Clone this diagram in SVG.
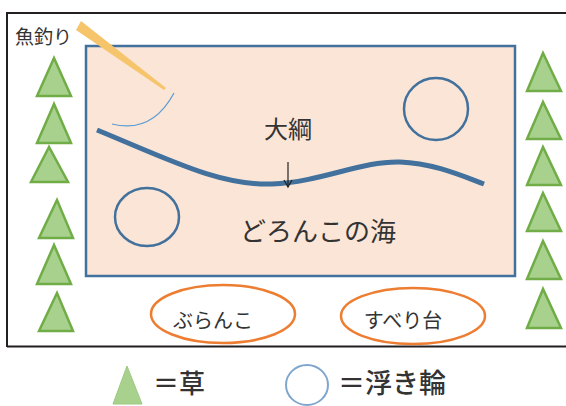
<svg xmlns="http://www.w3.org/2000/svg" width="566" height="406" viewBox="0 0 566 406">
  <style>
    .frame { fill: none; stroke: #231f20; stroke-width: 2; }
    .grass { fill: #a9d18e; stroke: #70ad47; stroke-width: 2.5; }
    .float { fill: none; stroke: #41719c; stroke-width: 2.5; }
    .play { fill: none; stroke: #ed7d31; stroke-width: 2.5; }
    .jp { font-family: "Noto Sans CJK JP", "Noto Sans CJK SC", sans-serif; fill: #333333; }
    .legend { font-family: "Noto Sans CJK JP", sans-serif; fill: #333333; font-weight: 500; }
  </style>
  <defs>
    <marker id="arrowOpen" markerWidth="10" markerHeight="10" refX="8" refY="5" orient="auto" markerUnits="userSpaceOnUse">
      <path d="M1,1 L8,5 L1,9" fill="none" stroke="#222" stroke-width="1.2"/>
    </marker>
  </defs>

  <!-- park boundary -->
  <g id="frame">
    <path class="frame" d="M7,347 L7,13 L566,13"/>
    <path class="frame" d="M7,346.5 L566,346.5"/>
  </g>

  <!-- pond -->
  <g id="pond">
    <rect x="86" y="46" width="429" height="230" fill="#fbe5d6" stroke="#41719c" stroke-width="2.5"/>
  </g>

  <!-- grass, left side -->
  <g id="grass-left">
    <polygon class="grass" points="54,58 37,96 71,96"/>
    <polygon class="grass" points="54,104 37,143 71,143"/>
    <polygon class="grass" points="49,147 31,182 68,182"/>
    <polygon class="grass" points="57,200 39,238 73,238"/>
    <polygon class="grass" points="54,245 37,284 71,284"/>
    <polygon class="grass" points="57,293 39,331 73,331"/>
  </g>

  <!-- grass, right side -->
  <g id="grass-right">
    <polygon class="grass" points="543,53 527,91 561,91"/>
    <polygon class="grass" points="543,102 527,139 561,139"/>
    <polygon class="grass" points="543,147 527,185 561,185"/>
    <polygon class="grass" points="543,193 527,231 561,231"/>
    <polygon class="grass" points="543,241 527,279 561,279"/>
    <polygon class="grass" points="543,289 527,328 561,328"/>
  </g>

  <!-- fishing rod and line -->
  <g id="fishing">
    <polygon points="81,21 76,30 164,90 166,88" fill="#f6c46a"/>
    <path d="M174,93 Q152,134 112,124" fill="none" stroke="#5b9bd5" stroke-width="1.2"/>
    <text class="jp" x="15" y="44" font-size="19">魚釣り</text>
  </g>

  <!-- floats -->
  <g id="float-1">
    <ellipse class="float" cx="436" cy="109" rx="32" ry="31"/>
  </g>
  <g id="float-2">
    <ellipse class="float" cx="147" cy="217" rx="32" ry="29"/>
  </g>

  <!-- big rope -->
  <g id="rope">
    <path d="M97,130 C170,160 220,186 272,184 C322,182 360,161 400,162 C432,163 460,175 484,184" fill="none" stroke="#41719c" stroke-width="5"/>
    <text class="jp" x="288" y="138" font-size="24" text-anchor="middle">大綱</text>
  </g>

  <g id="connectors">
    <line x1="288" y1="162" x2="288" y2="187" stroke="#222" stroke-width="1.2" marker-end="url(#arrowOpen)"/>
  </g>

  <g id="pond-label">
    <text class="jp" x="318" y="241" font-size="26" text-anchor="middle">どろんこの海</text>
  </g>

  <!-- playground -->
  <g id="swing">
    <ellipse class="play" cx="223" cy="314" rx="72" ry="29"/>
    <text class="jp" x="213" y="328" font-size="20" text-anchor="middle">ぶらんこ</text>
  </g>
  <g id="slide">
    <ellipse class="play" cx="413" cy="316" rx="72" ry="28"/>
    <text class="jp" x="403" y="328" font-size="20" text-anchor="middle">すべり台</text>
  </g>

  <!-- legend -->
  <g id="legend-grass">
    <polygon points="127,366 113,404 142,404" fill="#a9d18e" stroke="#9cc97f" stroke-width="1"/>
    <text class="legend" x="153" y="393" font-size="26">＝草</text>
  </g>
  <g id="legend-float">
    <ellipse cx="307" cy="385" rx="21" ry="20" fill="none" stroke="#7fa7ce" stroke-width="2"/>
    <text class="legend" x="338" y="393" font-size="27">＝浮き輪</text>
  </g>
</svg>
